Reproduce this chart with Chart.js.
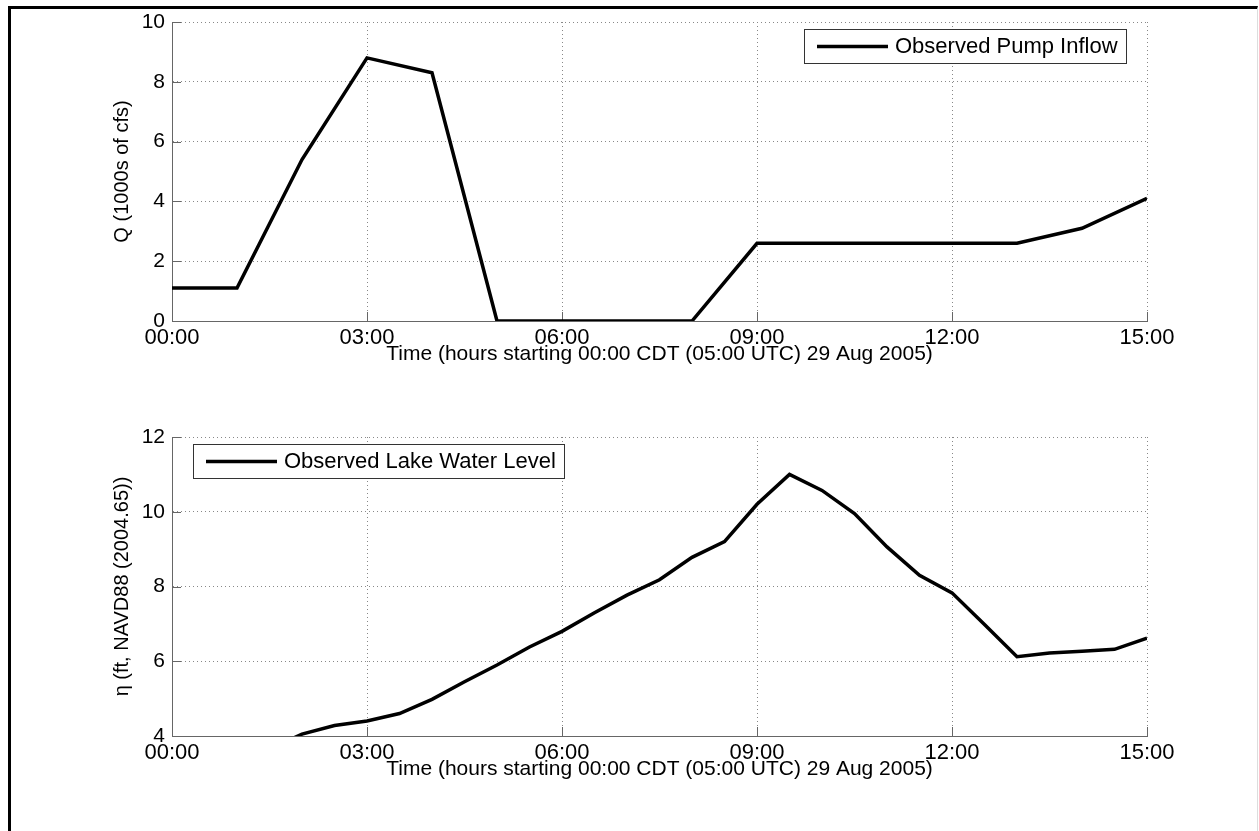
<!DOCTYPE html>
<html>
<head>
<meta charset="utf-8">
<script src="https://cdn.jsdelivr.net/npm/chart.js@4.4.0/dist/chart.umd.min.js"></script>
<style>
  body { margin: 0; background: #fff; width: 1259px; height: 831px; overflow: hidden; position: relative; }
  #frame { position: absolute; left: 8px; top: 6px; width: 1246px; height: 840px;
           border-left: 3px solid #000; border-top: 3px solid #000; border-right: 1px solid #ddd; }
  .plot { position: absolute; left: 0; width: 1259px; height: 400px; }
  #pumpWrap { top: 0; }
  #lakeWrap { top: 415px; }
</style>
</head>
<body>
<div id="frame"></div>
<div class="plot" id="pumpWrap"><canvas id="pumpChart" width="1259" height="400"></canvas></div>
<div class="plot" id="lakeWrap"><canvas id="lakeChart" width="1259" height="400"></canvas></div>
<script>
// hours after 00:00 CDT 29 Aug 2005
const pumpHours = [0, 1, 2, 3, 4, 5, 6, 7, 8, 9, 10, 11, 12, 13, 14, 15];
const pumpFlow = [1.1, 1.1, 5.4, 8.8, 8.3, 0, 0, 0, 0, 2.6, 2.6, 2.6, 2.6, 2.6, 3.1, 4.1];

const lakeHours = [0, 0.5, 1, 1.5, 2, 2.5, 3, 3.5, 4, 4.5, 5, 5.5, 6, 6.5, 7, 7.5,
                   8, 8.5, 9, 9.5, 10, 10.5, 11, 11.5, 12, 12.5, 13, 13.5, 14, 14.5, 15];
const lakeLevel = [3.0, 3.15, 3.35, 3.65, 4.05, 4.28, 4.4, 4.6, 4.98, 5.45, 5.9, 6.38, 6.8, 7.3, 7.77, 8.18,
                   8.78, 9.2, 10.2, 11.0, 10.57, 9.95, 9.06, 8.3, 7.83, 6.98, 6.12, 6.22, 6.27, 6.32, 6.62];

const hourTicks = [0, 3, 6, 9, 12, 15];
const hourLabels = ['00:00', '03:00', '06:00', '09:00', '12:00', '15:00'];
const pumpTicks = [0, 2, 4, 6, 8, 10];
const lakeTicks = [4, 6, 8, 10, 12];

const xTitle = 'Time (hours starting 00:00 CDT (05:00 UTC) 29 Aug 2005)';
const fontFamily = '"Liberation Sans", Arial, sans-serif';

Chart.defaults.font.family = fontFamily;
Chart.defaults.font.size = 20;
Chart.defaults.color = '#000';

// little tick marks pointing into the plot, like matlab
const innerTicks = {
  id: 'innerTicks',
  beforeDatasetsDraw(chart) {
    const ctx = chart.ctx, a = chart.chartArea;
    const xs = chart.scales.x, ys = chart.scales.y;
    ctx.save();
    ctx.strokeStyle = '#666';
    ctx.lineWidth = 1;
    ctx.beginPath();
    xs.ticks.forEach(t => {
      const px = Math.round(xs.getPixelForValue(t.value)) + 0.5;
      ctx.moveTo(px, a.bottom);
      ctx.lineTo(px, a.bottom - 9);
    });
    ys.ticks.forEach(t => {
      const py = Math.round(ys.getPixelForValue(t.value)) + 0.5;
      ctx.moveTo(a.left, py);
      ctx.lineTo(a.left + 9, py);
    });
    ctx.stroke();
    ctx.restore();
  }
};

// boxed legend inside the axes
const boxLegend = {
  id: 'boxLegend',
  afterDraw(chart, args, opts) {
    const ctx = chart.ctx, a = chart.chartArea;
    const label = chart.data.datasets[0].label;
    ctx.save();
    ctx.font = '22px ' + fontFamily;
    const tw = ctx.measureText(label).width;
    const w = Math.round(90 + tw + 9), h = 34;
    const x = opts.align === 'right' ? Math.round(a.right - 21 - w) : Math.round(a.left + 21);
    const y = Math.round(a.top + 7);
    ctx.fillStyle = '#fff';
    ctx.fillRect(x, y, w, h);
    ctx.strokeStyle = '#333';
    ctx.lineWidth = 1;
    ctx.strokeRect(x + 0.5, y + 0.5, w, h);
    ctx.beginPath();
    ctx.moveTo(x + 13, y + h / 2 + 0.5);
    ctx.lineTo(x + 84, y + h / 2 + 0.5);
    ctx.strokeStyle = '#000';
    ctx.lineWidth = 3.5;
    ctx.stroke();
    ctx.fillStyle = '#000';
    ctx.textBaseline = 'middle';
    ctx.fillText(label, x + 91, y + h / 2 + 1);
    ctx.restore();
  }
};

function makeChart(id, hours, values, label, yTicks, yTitle, legendAlign) {
  return new Chart(document.getElementById(id), {
    type: 'line',
    data: {
      datasets: [{
        label: label,
        data: hours.map((h, i) => ({ x: h, y: values[i] })),
        borderColor: '#000',
        borderWidth: 3.5,
        pointRadius: 0,
        tension: 0,
        fill: false
      }]
    },
    options: {
      responsive: false,
      animation: false,
      layout: { padding: { left: 100, top: 22, right: 112, bottom: 19 } },
      plugins: {
        legend: { display: false },
        tooltip: { enabled: false },
        boxLegend: { align: legendAlign }
      },
      scales: {
        x: {
          type: 'linear',
          min: hourTicks[0],
          max: hourTicks[hourTicks.length - 1],
          afterBuildTicks: s => { s.ticks = hourTicks.map(v => ({ value: v })); },
          afterFit: s => { s.height = 60; },
          ticks: {
            autoSkip: false,
            maxRotation: 0,
            padding: 4,
            font: { size: 22 },
            callback: v => hourLabels[hourTicks.indexOf(v)]
          },
          grid: { color: '#888', drawTicks: false },
          border: { display: true, color: '#666', width: 1, dash: [1, 3] },
          title: { display: true, text: xTitle, font: { size: 21 }, padding: { top: 0, bottom: 14 } }
        },
        y: {
          min: yTicks[0],
          max: yTicks[yTicks.length - 1],
          afterBuildTicks: s => { s.ticks = yTicks.map(v => ({ value: v })); },
          afterFit: s => { s.width = 72; },
          ticks: { padding: 7, font: { size: 21 } },
          grid: { color: '#888', drawTicks: false },
          border: { display: true, color: '#666', width: 1, dash: [1, 3] },
          title: { display: true, text: yTitle, padding: { top: 10, bottom: 0 } }
        }
      }
    },
    plugins: [innerTicks, boxLegend]
  });
}

makeChart('pumpChart', pumpHours, pumpFlow, 'Observed Pump Inflow', pumpTicks, 'Q (1000s of cfs)', 'right');
makeChart('lakeChart', lakeHours, lakeLevel, 'Observed Lake Water Level', lakeTicks, 'η (ft, NAVD88 (2004.65))', 'left');
</script>
</body>
</html>
